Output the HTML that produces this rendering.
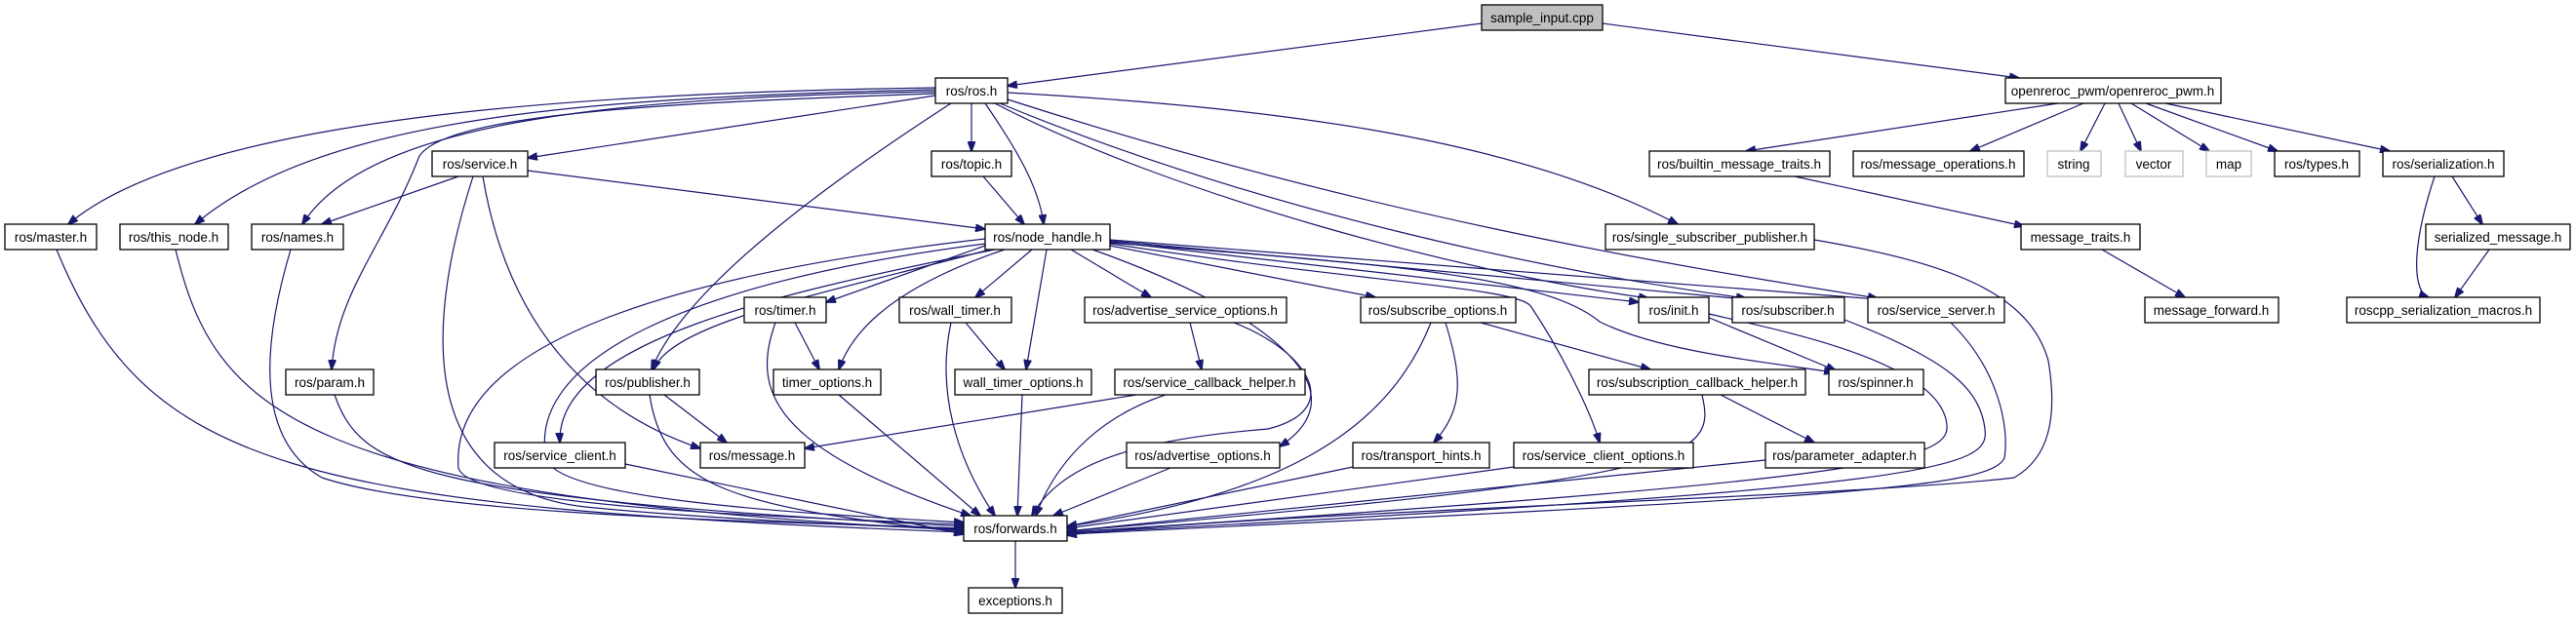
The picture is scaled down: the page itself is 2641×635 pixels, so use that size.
<!DOCTYPE html>
<html><head><meta charset="utf-8"><style>
html,body{margin:0;padding:0;background:#fff;}
svg{display:block;}
text{font-family:"Liberation Sans",sans-serif;font-size:13.5px;fill:#000;text-anchor:middle;}
.n{fill:#fff;stroke:#000;stroke-width:1.3;}
.g{fill:#fff;stroke:#bfbfbf;stroke-width:1.3;}
.e{fill:none;stroke:#191970;stroke-width:1.2;}
</style></head><body>
<svg width="2641" height="635" viewBox="0 0 2641 635" xmlns="http://www.w3.org/2000/svg">
<defs><marker id="a" markerWidth="11" markerHeight="8" refX="10" refY="4" orient="auto" markerUnits="userSpaceOnUse"><path d="M0,0 L11,4 L0,8 z" fill="#191970" stroke="#191970"/></marker></defs>
<g class="e" marker-end="url(#a)">
<path d="M1519,24 L1033,88"/>
<path d="M1643,24 L2070,80"/>
<path d="M959,90 C600,95 200,120 70,230"/>
<path d="M959,92 C600,100 330,120 200,230"/>
<path d="M959,94 C650,100 380,120 310,230"/>
<path d="M959,96 C700,105 460,115 430,160 C395,250 345,300 340,379"/>
<path d="M959,98 L541,162"/>
<path d="M975,106 C830,200 700,300 668,379"/>
<path d="M996,106 L996,155"/>
<path d="M1010,106 C1040,150 1065,190 1070,230"/>
<path d="M1020,106 C1200,200 1500,280 1690,306"/>
<path d="M1025,106 C1300,220 1600,280 1790,306"/>
<path d="M1033,102 C1400,220 1700,270 1925,306"/>
<path d="M1033,95 C1300,110 1550,140 1720,230"/>
<path d="M470,181 L330,230"/>
<path d="M541,175 L1010,235"/>
<path d="M485,181 C440,320 420,500 600,520 C700,530 850,538 988,543"/>
<path d="M495,181 C520,330 600,420 718,460"/>
<path d="M1008,181 L1050,230"/>
<path d="M58,256 C150,480 300,520 988,546"/>
<path d="M180,256 C220,420 300,510 988,544"/>
<path d="M298,256 C270,350 260,450 330,490 C450,530 800,535 988,542"/>
<path d="M343,405 C370,480 420,510 988,540"/>
<path d="M1010,245 C700,280 460,350 470,480 C480,520 800,530 988,538"/>
<path d="M1010,250 C700,290 540,370 560,470 C570,515 850,528 988,536"/>
<path d="M1015,256 C850,300 690,330 670,379"/>
<path d="M1020,256 C800,300 570,350 574,454"/>
<path d="M1010,252 L847,310"/>
<path d="M1030,256 C900,300 870,350 860,379"/>
<path d="M1058,256 L1000,305"/>
<path d="M1073,256 L1052,379"/>
<path d="M1098,256 L1180,305"/>
<path d="M1120,256 C1300,320 1400,400 1312,458"/>
<path d="M1138,252 L1410,305"/>
<path d="M1138,250 C1400,290 1560,295 1570,315 C1600,360 1630,420 1640,454"/>
<path d="M1138,248 L1680,310"/>
<path d="M1138,247 L1790,307"/>
<path d="M1138,246 L1925,307"/>
<path d="M1138,249 C1400,270 1580,280 1640,330 C1700,360 1800,370 1880,382"/>
<path d="M815,331 L840,379"/>
<path d="M795,331 C770,400 790,460 995,529"/>
<path d="M990,331 L1030,379"/>
<path d="M975,331 C960,400 980,470 1020,529"/>
<path d="M860,405 L1005,529"/>
<path d="M1048,405 L1043,529"/>
<path d="M1220,331 L1232,379"/>
<path d="M1265,331 C1340,360 1380,420 1300,440 C1180,450 1090,470 1058,529"/>
<path d="M1165,405 L825,460"/>
<path d="M1195,405 C1120,430 1080,480 1062,529"/>
<path d="M1200,480 L1080,529"/>
<path d="M1467,331 C1420,450 1300,510 1094,540"/>
<path d="M1482,331 C1500,390 1500,420 1470,454"/>
<path d="M1518,331 L1692,379"/>
<path d="M1387,479 L1094,540"/>
<path d="M1552,479 L1094,542"/>
<path d="M1764,405 L1860,454"/>
<path d="M1745,405 C1760,470 1740,490 1094,545"/>
<path d="M1810,472 L1094,545"/>
<path d="M1750,325 L1882,380"/>
<path d="M1752,322 C1830,340 1980,370 1995,430 C2005,470 1970,490 1094,546"/>
<path d="M1891,328 C2000,370 2030,400 2035,440 C2040,480 2000,500 1094,547"/>
<path d="M2000,331 C2050,380 2060,440 2055,470 C2040,500 1900,510 1094,548"/>
<path d="M1860,246 C2000,270 2080,300 2100,370 C2110,430 2100,470 2065,490 C1900,510 1300,525 1094,549"/>
<path d="M641,476 L988,548"/>
<path d="M681,405 L745,454"/>
<path d="M666,405 C680,500 750,520 988,546"/>
<path d="M2110,106 L1790,155"/>
<path d="M2136,106 L2020,155"/>
<path d="M2158,106 L2133,155"/>
<path d="M2172,106 L2195,155"/>
<path d="M2185,106 L2265,155"/>
<path d="M2200,106 L2335,155"/>
<path d="M2220,106 L2450,155"/>
<path d="M1840,181 L2075,232"/>
<path d="M2155,256 L2240,305"/>
<path d="M2514,181 L2545,230"/>
<path d="M2496,181 C2470,260 2475,300 2490,305"/>
<path d="M2552,256 L2517,305"/>
<path d="M1041,554 L1041,603"/>
</g>
<g>
<rect x="1519" y="5" width="124" height="26" fill="#bfbfbf" stroke="#000" stroke-width="1.3"/><text x="1581" y="23">sample_input.cpp</text>
<rect class="n" x="959" y="80" width="74" height="26"/><text x="996" y="98">ros/ros.h</text>
<rect class="n" x="2056" y="80" width="221" height="26"/><text x="2166" y="98">openreroc_pwm/openreroc_pwm.h</text>
<rect class="n" x="443" y="155" width="98" height="26"/><text x="492" y="173">ros/service.h</text>
<rect class="n" x="955" y="155" width="82" height="26"/><text x="996" y="173">ros/topic.h</text>
<rect class="n" x="1691" y="155" width="185" height="26"/><text x="1783" y="173">ros/builtin_message_traits.h</text>
<rect class="n" x="1900" y="155" width="175" height="26"/><text x="1987" y="173">ros/message_operations.h</text>
<rect class="g" x="2099" y="155" width="55" height="26"/><text x="2126" y="173">string</text>
<rect class="g" x="2179" y="155" width="59" height="26"/><text x="2208" y="173">vector</text>
<rect class="g" x="2262" y="155" width="46" height="26"/><text x="2285" y="173">map</text>
<rect class="n" x="2332" y="155" width="87" height="26"/><text x="2375" y="173">ros/types.h</text>
<rect class="n" x="2443" y="155" width="124" height="26"/><text x="2505" y="173">ros/serialization.h</text>
<rect class="n" x="5" y="230" width="94" height="26"/><text x="52" y="248">ros/master.h</text>
<rect class="n" x="123" y="230" width="111" height="26"/><text x="178" y="248">ros/this_node.h</text>
<rect class="n" x="258" y="230" width="94" height="26"/><text x="305" y="248">ros/names.h</text>
<rect class="n" x="1010" y="230" width="128" height="26"/><text x="1074" y="248">ros/node_handle.h</text>
<rect class="n" x="1646" y="230" width="214" height="26"/><text x="1753" y="248">ros/single_subscriber_publisher.h</text>
<rect class="n" x="2072" y="230" width="122" height="26"/><text x="2133" y="248">message_traits.h</text>
<rect class="n" x="2487" y="230" width="148" height="26"/><text x="2561" y="248">serialized_message.h</text>
<rect class="n" x="763" y="305" width="84" height="26"/><text x="805" y="323">ros/timer.h</text>
<rect class="n" x="922" y="305" width="115" height="26"/><text x="979" y="323">ros/wall_timer.h</text>
<rect class="n" x="1112" y="305" width="207" height="26"/><text x="1215" y="323">ros/advertise_service_options.h</text>
<rect class="n" x="1395" y="305" width="159" height="26"/><text x="1474" y="323">ros/subscribe_options.h</text>
<rect class="n" x="1680" y="305" width="72" height="26"/><text x="1716" y="323">ros/init.h</text>
<rect class="n" x="1776" y="305" width="115" height="26"/><text x="1833" y="323">ros/subscriber.h</text>
<rect class="n" x="1915" y="305" width="140" height="26"/><text x="1985" y="323">ros/service_server.h</text>
<rect class="n" x="2199" y="305" width="137" height="26"/><text x="2267" y="323">message_forward.h</text>
<rect class="n" x="2406" y="305" width="198" height="26"/><text x="2505" y="323">roscpp_serialization_macros.h</text>
<rect class="n" x="293" y="379" width="90" height="26"/><text x="338" y="397">ros/param.h</text>
<rect class="n" x="611" y="379" width="106" height="26"/><text x="664" y="397">ros/publisher.h</text>
<rect class="n" x="793" y="379" width="110" height="26"/><text x="848" y="397">timer_options.h</text>
<rect class="n" x="979" y="379" width="140" height="26"/><text x="1049" y="397">wall_timer_options.h</text>
<rect class="n" x="1143" y="379" width="195" height="26"/><text x="1240" y="397">ros/service_callback_helper.h</text>
<rect class="n" x="1629" y="379" width="222" height="26"/><text x="1740" y="397">ros/subscription_callback_helper.h</text>
<rect class="n" x="1875" y="379" width="97" height="26"/><text x="1923" y="397">ros/spinner.h</text>
<rect class="n" x="507" y="454" width="134" height="26"/><text x="574" y="472">ros/service_client.h</text>
<rect class="n" x="718" y="454" width="107" height="26"/><text x="771" y="472">ros/message.h</text>
<rect class="n" x="1155" y="454" width="157" height="26"/><text x="1233" y="472">ros/advertise_options.h</text>
<rect class="n" x="1387" y="454" width="140" height="26"/><text x="1457" y="472">ros/transport_hints.h</text>
<rect class="n" x="1552" y="454" width="184" height="26"/><text x="1644" y="472">ros/service_client_options.h</text>
<rect class="n" x="1810" y="454" width="163" height="26"/><text x="1891" y="472">ros/parameter_adapter.h</text>
<rect class="n" x="988" y="529" width="106" height="26"/><text x="1041" y="547">ros/forwards.h</text>
<rect class="n" x="993" y="603" width="96" height="26"/><text x="1041" y="621">exceptions.h</text>
</g>
</svg>
</body></html>
